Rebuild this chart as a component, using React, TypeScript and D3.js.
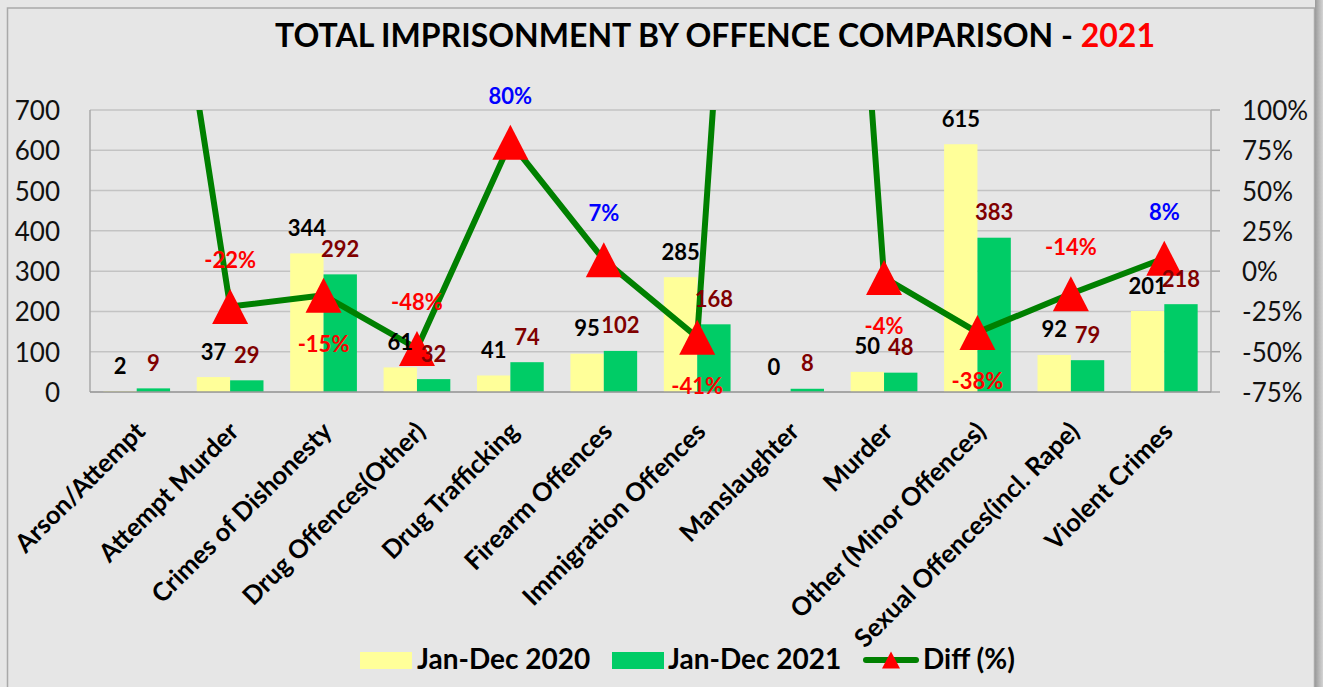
import React from "react";
import * as d3 from "d3";

const categories = [
  "Arson/Attempt",
  "Attempt Murder",
  "Crimes of Dishonesty",
  "Drug Offences(Other)",
  "Drug Trafficking",
  "Firearm Offences",
  "Immigration Offences",
  "Manslaughter",
  "Murder",
  "Other (Minor Offences)",
  "Sexual Offences(incl. Rape)",
  "Violent Crimes",
];
const values2020 = [2, 37, 344, 61, 41, 95, 285, 0, 50, 615, 92, 201];
const values2021 = [9, 29, 292, 32, 74, 102, 168, 8, 48, 383, 79, 218];
// Diff (%) series; Arson and Manslaughter are far above the axis maximum (clipped)
const diffPct = [350, -22, -15, -48, 80, 7, -41, 800, -4, -38, -14, 8];
const diffLabelShown = [false, true, true, true, true, true, true, false, true, true, true, true];
const diffLabelPlace = ["above", "above", "below", "above", "above", "above", "below", "above", "below", "below", "above", "above"];
const leftTicks = [0, 100, 200, 300, 400, 500, 600, 700];
const rightTicks = [-75, -50, -25, 0, 25, 50, 75, 100];
const seriesNames = ["Jan-Dec 2020", "Jan-Dec 2021", "Diff (%)"];

const W = 1323;
const H = 687;
const plot = { left: 90, right: 1211, top: 110, bottom: 392 };
const FONT = "Lato, 'Open Sans', sans-serif";
const C2020 = "#ffff99";
const C2021 = "#00cc66";
const LINE = "#008000";
const MARK = "#ff0000";

export default function App() {
  const x = d3.scaleBand<string>().domain(categories).range([plot.left, plot.right]).paddingInner(0).paddingOuter(0);
  const x1 = d3.scaleBand<string>().domain(["2020", "2021"]).range([0, x.bandwidth()]).paddingInner(0).paddingOuter(0.4);
  const y = d3.scaleLinear().domain([0, 700]).range([plot.bottom, plot.top]);
  const yR = d3.scaleLinear().domain([-75, 100]).range([plot.bottom, plot.top]);

  const cx = (c: string) => (x(c) as number) + x.bandwidth() / 2;
  const linePts: [number, number][] = categories.map((c, i) => [cx(c), yR(diffPct[i])]);
  const lineGen = d3.line();
  const tri = (px: number, py: number, w: number, h: number) =>
    `M${px},${py - h / 2}L${px + w / 2},${py + h / 2}L${px - w / 2},${py + h / 2}Z`;

  return (
    <svg
      width={W}
      height={H}
      style={{ position: "absolute", left: 0, top: 0, display: "block" }}
      fontFamily={FONT}
    >
      <defs>
        <clipPath id="plotClip">
          <rect x={plot.left} y={plot.top} width={plot.right - plot.left} height={plot.bottom - plot.top} />
        </clipPath>
        <linearGradient id="shadowR" x1="0" x2="1" y1="0" y2="0">
          <stop offset="0" stopColor="#9a9a9a" />
          <stop offset="1" stopColor="#d4d4d4" />
        </linearGradient>
      </defs>
      <rect x={0} y={0} width={W} height={H} fill="#e6e6e6" />
      <rect x={7.5} y={8} width={1307} height={H + 20} fill="none" stroke="#a9a9a9" strokeWidth={1.5} />
      <rect x={1315} y={0} width={8} height={H} fill="url(#shadowR)" />

      {/* Title */}
      <text x={715} y={47} textAnchor="middle" fontSize={32} fontWeight={700} textLength={880} lengthAdjust="spacingAndGlyphs">
        <tspan fill="#000">TOTAL IMPRISONMENT BY OFFENCE COMPARISON - </tspan>
        <tspan fill="#ff0000">2021</tspan>
      </text>

      {/* gridlines */}
      {leftTicks.map((t) => (
        <line key={"g" + t} x1={plot.left} x2={plot.right} y1={y(t)} y2={y(t)} stroke="#c3c3c3" strokeWidth={1.5} />
      ))}
      {/* left axis */}
      <line x1={plot.left} x2={plot.left} y1={plot.top} y2={plot.bottom} stroke="#a9a9a9" strokeWidth={1.5} />
      {leftTicks.map((t) => (
        <text key={"l" + t} x={60} y={y(t)} textAnchor="end" dominantBaseline="central" fontSize={26} fill="#111">
          {t}
        </text>
      ))}
      {/* right axis */}
      <line x1={plot.right} x2={plot.right} y1={plot.top} y2={plot.bottom} stroke="#a9a9a9" strokeWidth={1.5} />
      {rightTicks.map((t) => (
        <g key={"r" + t}>
          <line x1={plot.right} x2={plot.right + 9} y1={yR(t)} y2={yR(t)} stroke="#a9a9a9" strokeWidth={1.5} />
          <text x={1242} y={yR(t)} dominantBaseline="central" fontSize={26} fill="#111">
            {t + "%"}
          </text>
        </g>
      ))}

      {/* bars */}
      {categories.map((c, i) => (
        <g key={"b" + c} transform={`translate(${x(c)},0)`}>
          <rect x={x1("2020")} y={y(values2020[i])} width={x1.bandwidth()} height={y(0) - y(values2020[i])} fill={C2020} />
          <rect x={x1("2021")} y={y(values2021[i])} width={x1.bandwidth()} height={y(0) - y(values2021[i])} fill={C2021} />
        </g>
      ))}
      {/* bottom axis */}
      <line x1={plot.left} x2={plot.right} y1={plot.bottom} y2={plot.bottom} stroke="#9a9a9a" strokeWidth={1.5} />

      {/* diff line */}
      <g clipPath="url(#plotClip)">
        <path d={lineGen(linePts) || ""} fill="none" stroke={LINE} strokeWidth={6} strokeLinejoin="round" />
        {linePts.map(([px, py], i) => (
          <path key={"m" + i} d={tri(px, py, 36, 35)} fill={MARK} />
        ))}
      </g>

      {/* bar labels */}
      {categories.map((c, i) => (
        <g key={"bl" + c} fontSize={22} fontWeight={700}>
          <text
            x={(x(c) as number) + (x1("2020") as number) + x1.bandwidth() / 2}
            y={y(values2020[i]) - 26}
            textAnchor="middle"
            dominantBaseline="central"
            fill="#000"
          >
            {values2020[i]}
          </text>
          <text
            x={(x(c) as number) + (x1("2021") as number) + x1.bandwidth() / 2}
            y={y(values2021[i]) - 26}
            textAnchor="middle"
            dominantBaseline="central"
            fill="#800000"
          >
            {values2021[i]}
          </text>
        </g>
      ))}

      {/* diff labels */}
      {categories.map((c, i) =>
        diffLabelShown[i] ? (
          <text
            key={"dl" + c}
            x={cx(c)}
            y={yR(diffPct[i]) + (diffLabelPlace[i] === "above" ? -47 : 48)}
            textAnchor="middle"
            dominantBaseline="central"
            fontSize={22}
            fontWeight={700}
            fill={diffPct[i] < 0 ? "#ff0000" : "#0000ff"}
          >
            {diffPct[i] + "%"}
          </text>
        ) : null
      )}

      {/* category labels */}
      {categories.map((c) => (
        <text
          key={"c" + c}
          transform={`translate(${cx(c) + 3},${426}) rotate(-45)`}
          textAnchor="end"
          dominantBaseline="central"
          fontSize={25.5}
          fontWeight={700}
          fill="#000"
        >
          {c}
        </text>
      ))}

      {/* legend */}
      <g fontSize={28} fontWeight={700} fill="#000">
        <rect x={360} y={652} width={52} height={17} fill={C2020} />
        <text x={417} y={669}>{seriesNames[0]}</text>
        <rect x={612} y={652} width={52} height={17} fill={C2021} />
        <text x={668} y={669}>{seriesNames[1]}</text>
        <line x1={866} x2={916} y1={660} y2={660} stroke={LINE} strokeWidth={6} strokeLinecap="round" />
        <path d={tri(891, 660, 18, 17)} fill={MARK} />
        <text x={923} y={669}>{seriesNames[2]}</text>
      </g>
    </svg>
  );
}
